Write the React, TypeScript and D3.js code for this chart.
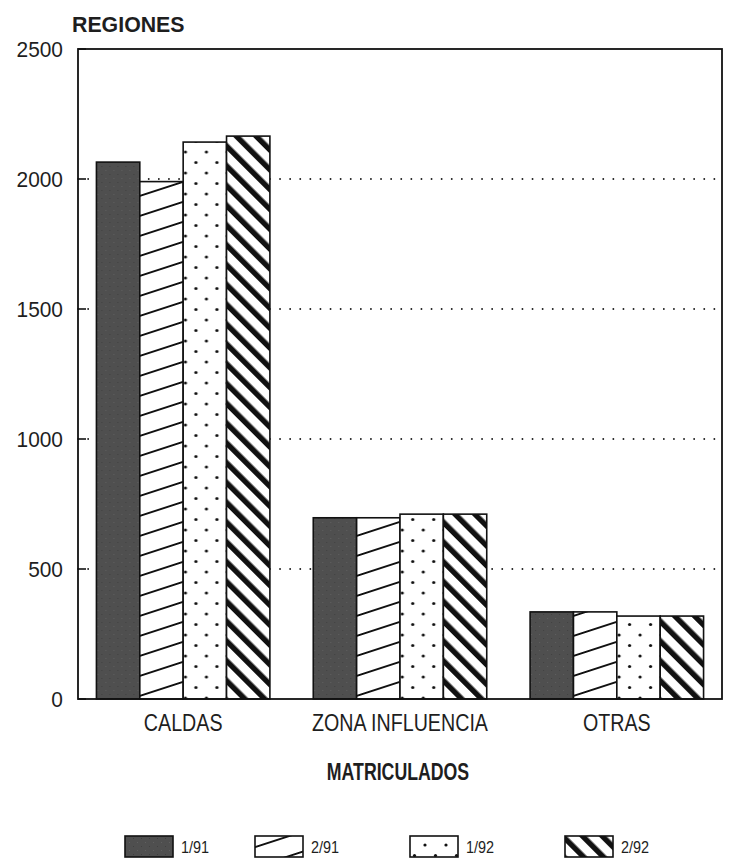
import React from "react";
import * as d3 from "d3";

const categories = ["CALDAS", "ZONA INFLUENCIA", "OTRAS"];
const seriesNames = ["1/91", "2/91", "1/92", "2/92"];
const s191 = [2065, 697, 335];
const s291 = [1990, 697, 335];
const s192 = [2142, 711, 319];
const s292 = [2165, 711, 319];
const yTicks = [0, 500, 1000, 1500, 2000, 2500];
const gridTicks = [500, 1000, 1500, 2000];

const seriesValues = [s191, s291, s192, s292];
const patternIds = ["p191", "p291", "p192", "p292"];

const FONT = "'Liberation Sans', Arial, Helvetica, sans-serif";

function CText({ x, y, sx = 1, size, bold = false, anchor = "start", children }: any) {
  return (
    <text transform={`translate(${x},${y}) scale(${sx},1)`} fontSize={size} fontWeight={bold ? "bold" : "normal"}
      textAnchor={anchor} fill="#1e1e1e">{children}</text>
  );
}

export default function App() {
  const W = 731, H = 865;
  const left = 78, right = 722, top = 49, bottom = 699;
  const y = d3.scaleLinear().domain([0, 2500]).range([bottom, top]);
  const x = d3.scaleBand<string>().domain(categories).range([left, right]).paddingInner(0.2).paddingOuter(0.085);
  const xs = d3.scaleBand<string>().domain(seriesNames).range([0, x.bandwidth()]).padding(0);

  const legendX = [125, 255, 410, 565];

  return (
    <svg width={W} height={H} style={{ position: "absolute", left: 0, top: 0, background: "#fff" }} fontFamily={FONT}>
      <defs>
        <pattern id="p191" patternUnits="userSpaceOnUse" width={8} height={8}>
          <rect width={8} height={8} fill="#4f4f4f" />
          <rect x={1} y={2} width={1} height={1} fill="#606060" />
          <rect x={5} y={6} width={1} height={1} fill="#404040" />
        </pattern>
        <pattern id="p291" patternUnits="userSpaceOnUse" width={44} height={20} patternTransform="skewY(-18)">
          <rect width={44} height={20} fill="#fff" />
          <line x1={0} y1={10} x2={44} y2={10} stroke="#111" strokeWidth={2} />
        </pattern>
        <pattern id="p192" patternUnits="userSpaceOnUse" width={21} height={21}>
          <rect width={21} height={21} fill="#fff" />
          <circle cx={5} cy={5} r={1.6} fill="#111" />
          <circle cx={15.5} cy={15.5} r={1.6} fill="#111" />
        </pattern>
        <pattern id="p292" patternUnits="userSpaceOnUse" width={14} height={14} patternTransform="rotate(-45)">
          <rect width={14} height={14} fill="#fff" />
          <rect x={0} y={0} width={5.5} height={14} fill="#111" />
        </pattern>
      </defs>

      {/* grid lines */}
      {gridTicks.map((t) => (
        <line key={t} x1={left} x2={right} y1={y(t)} y2={y(t)} stroke="#222" strokeWidth={1.8} strokeDasharray="0.1 10" strokeLinecap="round" />
      ))}

      {/* bars */}
      {categories.map((c, ci) => (
        <g key={c} transform={`translate(${x(c)},0)`}>
          {seriesNames.map((s, si) => {
            const v = seriesValues[si][ci];
            return (
              <rect key={s} x={xs(s)} y={y(v)} width={xs.bandwidth()} height={y(0) - y(v)}
                fill={`url(#${patternIds[si]})`} stroke="#111" strokeWidth={1.6} />
            );
          })}
        </g>
      ))}

      {/* frame */}
      <rect x={left} y={top} width={right - left} height={bottom - top} fill="none" stroke="#111" strokeWidth={1.8} />

      {/* y ticks */}
      {yTicks.map((t) => (
        <g key={t}>
          <line x1={left} x2={left + 8} y1={y(t)} y2={y(t)} stroke="#111" strokeWidth={1.6} />
          <CText x={63} y={y(t) + 8} size={22} sx={0.95} anchor="end">{t}</CText>
        </g>
      ))}

      {/* category labels */}
      {categories.map((c) => (
        <CText key={c} x={(x(c) as number) + x.bandwidth() / 2} y={731} size={24} sx={0.82} anchor="middle">{c}</CText>
      ))}

      <CText x={398} y={780} size={23} sx={0.77} bold anchor="middle">MATRICULADOS</CText>
      <CText x={72} y={32} size={22} sx={0.97} bold>REGIONES</CText>

      {/* legend */}
      {seriesNames.map((s, i) => (
        <g key={s}>
          <rect x={legendX[i]} y={836} width={48} height={21} fill={`url(#${patternIds[i]})`} stroke="#111" strokeWidth={1.6} />
          <CText x={legendX[i] + 56} y={853} size={17} sx={0.85}>{s}</CText>
        </g>
      ))}
    </svg>
  );
}
